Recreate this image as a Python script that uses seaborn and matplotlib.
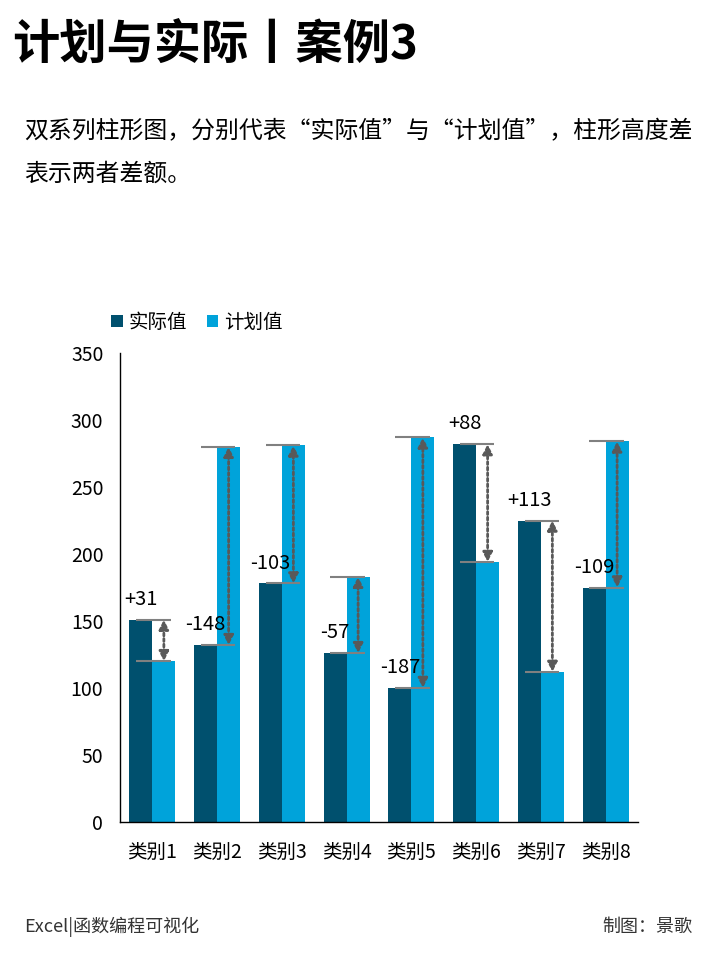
import numpy as np
import pandas as pd
import matplotlib
matplotlib.use("Agg")
import matplotlib.pyplot as plt
import seaborn as sns
from matplotlib.ticker import MultipleLocator, FixedLocator

categories = ["类别1", "类别2", "类别3", "类别4", "类别5", "类别6", "类别7", "类别8"]
actual = [151, 132, 178, 126, 100, 282, 225, 175]
plan = [120, 280, 281, 183, 287, 194, 112, 284]
series_names = ["实际值", "计划值"]
colors = ["#00506E", "#00A3DA"]

df = pd.DataFrame({
    "类别": categories * 2,
    "值": actual + plan,
    "系列": [series_names[0]] * len(categories) + [series_names[1]] * len(categories),
})

sns.set_style("white")
plt.rcParams["font.family"] = ["Noto Sans CJK SC", "DejaVu Sans"]
plt.rcParams["axes.unicode_minus"] = False
for k in ["text.color", "axes.labelcolor", "xtick.color", "ytick.color"]:
    plt.rcParams[k] = "black"

fig = plt.figure(figsize=(7.2, 9.6), dpi=100)
ax = fig.add_axes([120 / 720, 1 - 822 / 960, 518 / 720, 469 / 960])

sns.barplot(data=df, x="类别", y="值", hue="系列", palette=colors,
            width=0.71, saturation=1, gap=0, linewidth=0, ax=ax, legend=True)

ax.set_ylim(0, 350)
ax.set_xlim(-0.5, len(categories) - 0.5)
ax.yaxis.set_major_locator(MultipleLocator(50))
ax.set_xlabel("")
ax.set_ylabel("")

for s in ["top", "right"]:
    ax.spines[s].set_visible(False)
for s in ["left", "bottom"]:
    ax.spines[s].set_color("black")
    ax.spines[s].set_linewidth(1)

ax.tick_params(axis="y", direction="out", length=7, width=1, color="black",
               labelcolor="black", labelsize=14, pad=5)
ax.tick_params(axis="x", which="major", length=0, labelcolor="black",
               labelsize=14, pad=14)
ax.xaxis.set_minor_locator(FixedLocator(np.arange(-0.5, len(categories), 1.0)))
ax.tick_params(axis="x", which="minor", direction="out", length=7, width=1,
               color="black")

# difference markers
off = 0.71 / 4
for i, (a, p) in enumerate(zip(actual, plan)):
    for v in (a, p):
        ax.plot([i - 0.25, i + 0.28], [v, v], color="#808080", lw=1.5,
                solid_capstyle="butt", zorder=3)
    lo, hi = min(a, p), max(a, p)
    ax.annotate("", xy=(i + off, hi), xytext=(i + off, lo),
                arrowprops=dict(arrowstyle="<|-|>", color="#595959", lw=2,
                                linestyle=(0, (1, 1)), shrinkA=0, shrinkB=0,
                                mutation_scale=14), zorder=4)
    d = a - p
    ax.annotate(f"{d:+d}", xy=(i - off, a), xytext=(0, 7),
                textcoords="offset points", ha="center", va="bottom",
                fontsize=14.5, color="black", zorder=5)

leg = ax.legend(loc="center left", bbox_to_anchor=(-0.017, 1.066), ncol=2,
                frameon=False, fontsize=14, handlelength=0.6, handleheight=0.6,
                handletextpad=0.3, columnspacing=1.0, borderpad=0,
                borderaxespad=0)
for t in leg.get_texts():
    t.set_color("black")

fig.text(12 / 720, 1 - 45 / 960, "计划与实际丨案例3", fontsize=34,
         fontweight="black", color="black", va="center", ha="left")
fig.text(24 / 720, 1 - 132 / 960, "双系列柱形图，分别代表“实际值”与“计划值”，柱形高度差",
         fontsize=17.2, color="black", va="center", ha="left")
fig.text(24 / 720, 1 - 174 / 960, "表示两者差额。",
         fontsize=17.2, color="black", va="center", ha="left")
fig.text(24 / 720, 1 - 927 / 960, "Excel|函数编程可视化", fontsize=13,
         color="#333333", va="center", ha="left")
fig.text(692 / 720, 1 - 927 / 960, "制图：景歌", fontsize=13,
         color="#333333", va="center", ha="right")

fig.savefig("out.png", dpi=100)
